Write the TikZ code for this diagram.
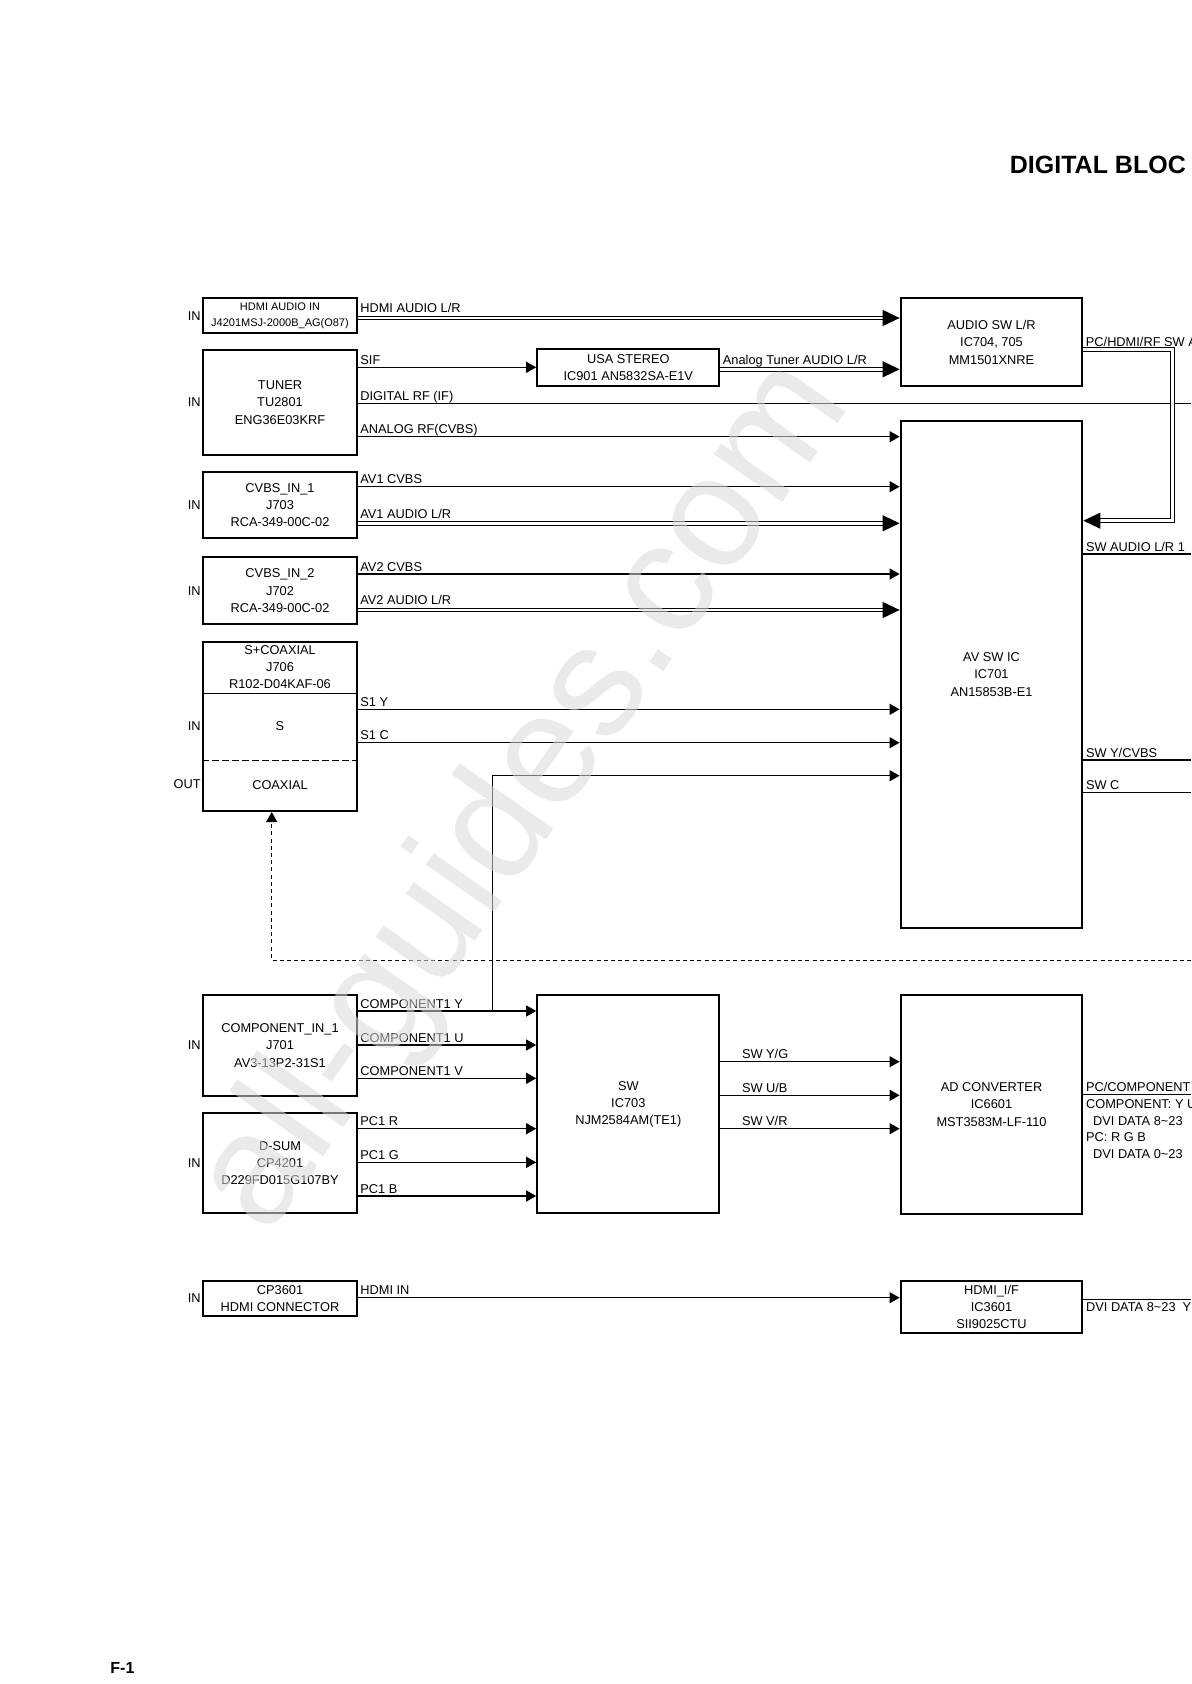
\documentclass[tikz,border=0pt]{standalone}
\usepackage{fontspec}
\setmainfont{Liberation Sans}
\usetikzlibrary{arrows.meta,calc}
\newcommand\labfont{\fontsize{6.4}{8.65}\selectfont}
\newcommand\tinylab{\fontsize{5.5}{8}\selectfont}
\tikzset{
 box/.style={draw, line width=1.1pt, inner sep=0pt, align=center, font=\labfont},
 arr/.style={line width=0.6pt, -{Triangle[length=5pt,width=5.5pt]}},
 darr/.style={line width=0.5pt, double distance=1.3pt, -{Triangle[length=8.5pt,width=8pt]}},
 ln/.style={line width=0.6pt},
 lbl/.style={anchor=base west, inner sep=0pt, font=\labfont, xshift=1pt, yshift=1.4pt},
 dlbl/.style={lbl, yshift=1.2pt},
 inlbl/.style={anchor=east, inner sep=0pt, font=\labfont, xshift=-0.6pt},
 txt/.style={inner sep=0pt, align=center, font=\labfont},
}
\begin{document}
\begin{tikzpicture}[x=0.5pt,y=-0.5pt]
\useasboundingbox (0,0) rectangle (1191,1684);
\clip (0,0) rectangle (1191,1684);

% title and page number
\node[anchor=base west, inner sep=0pt, font=\fontsize{12.5}{15}\selectfont\bfseries] (title) at (1009.5,173.5) {DIGITAL BLOC};
\node[anchor=base west, inner sep=0pt, font=\fontsize{8}{10}\selectfont\bfseries] (pg) at (110,1673.3) {F-1};

% left boxes
\node[box, minimum width=76.7pt, minimum height=17.5pt, font=\tinylab] (hdmia) at (280,315.8) {HDMI AUDIO IN\\J4201MSJ-2000B\_AG(O87)};
\node[box, minimum width=76.7pt, minimum height=52.5pt] (tuner) at (280,402.5) {TUNER\\TU2801\\ENG36E03KRF};
\node[box, minimum width=76.7pt, minimum height=33.3pt] (cvbs1) at (280,505) {CVBS\_IN\_1\\J703\\RCA-349-00C-02};
\node[box, minimum width=76.7pt, minimum height=33.5pt] (cvbs2) at (280,590.8) {CVBS\_IN\_2\\J702\\RCA-349-00C-02};
\node[box, minimum width=76.7pt, minimum height=84.65pt] (scoax) at (280,726.3) {};
\node[txt] (scoaxt) at (280,667) {S+COAXIAL\\J706\\R102-D04KAF-06};
\node[txt] (st) at (280,726) {S};
\node[txt] (coaxt) at (280,785) {COAXIAL};
\draw[line width=0.6pt] (scoax.west |- 0,693.3) -- (scoax.east |- 0,693.3);
\draw[line width=0.6pt, dash pattern=on 3.5pt off 1.5pt] (scoax.west |- 0,760.7) -- (scoax.east |- 0,760.7);
\node[box, minimum width=76.7pt, minimum height=50.5pt] (comp) at (280,1045.5) {COMPONENT\_IN\_1\\J701\\AV3-13P2-31S1};
\node[box, minimum width=76.7pt, minimum height=50.3pt] (dsub) at (280,1163) {D-SUM\\CP4201\\D229FD015G107BY};
\node[box, minimum width=76.7pt, minimum height=17.65pt] (cp) at (280,1298.3) {CP3601\\HDMI CONNECTOR};

% middle / right boxes
\node[box, minimum width=91pt, minimum height=18.35pt] (stereo) at (628.3,367.7) {USA STEREO\\IC901 AN5832SA-E1V};
\node[box, minimum width=90.8pt, minimum height=43.85pt] (audsw) at (991.5,342.2) {AUDIO SW L/R\\IC704, 705\\MM1501XNRE};
\node[box, minimum width=90.8pt, minimum height=253.65pt] (avsw) at (991.5,674.3) {AV SW IC\\IC701\\AN15853B-E1};
\node[box, minimum width=91pt, minimum height=109.15pt] (swic) at (628.3,1104.2) {SW\\IC703\\NJM2584AM(TE1)};
\node[box, minimum width=90.8pt, minimum height=109.5pt] (adc) at (991.5,1104.5) {AD CONVERTER\\IC6601\\MST3583M-LF-110};
\node[box, minimum width=90.8pt, minimum height=26.15pt] (hdmiif) at (991.5,1306.8) {HDMI\_I/F\\IC3601\\SII9025CTU};

% IN / OUT labels
\node[inlbl] (in1) at (hdmia.west) {IN};
\node[inlbl] (in2) at (tuner.west) {IN};
\node[inlbl] (in3) at (cvbs1.west) {IN};
\node[inlbl] (in4) at (cvbs2.west) {IN};
\node[inlbl] (in5) at (scoax.west |- 0,726) {IN};
\node[inlbl] (out5) at (scoax.west |- 0,784) {OUT};
\node[inlbl] (in6) at (comp.west) {IN};
\node[inlbl] (in7) at (dsub.west) {IN};
\node[inlbl] (in8) at (cp.west) {IN};

% connectors
\draw[darr] (hdmia.east |- 0,318) -- node[dlbl,pos=0]{HDMI AUDIO L/R} (audsw.west |- 0,318);
\draw[arr] (tuner.east |- 0,367.3) -- node[lbl,pos=0]{SIF} (stereo.west |- 0,367.3);
\draw[darr] (stereo.east |- 0,369.3) -- node[dlbl,pos=0]{Analog Tuner AUDIO L/R} (audsw.west |- 0,369.3);
\coordinate (rfR) at (1191,403.3);
\draw[ln] (tuner.east |- 0,403.3) -- node[lbl,pos=0]{DIGITAL RF (IF)} (rfR);
\draw[arr] (tuner.east |- 0,436.7) -- node[lbl,pos=0]{ANALOG RF(CVBS)} (avsw.west |- 0,436.7);
\draw[arr] (cvbs1.east |- 0,486.7) -- node[lbl,pos=0]{AV1 CVBS} (avsw.west |- 0,486.7);
\draw[darr] (cvbs1.east |- 0,523.3) -- node[dlbl,pos=0]{AV1 AUDIO L/R} (avsw.west |- 0,523.3);
\draw[arr] (cvbs2.east |- 0,574) -- node[lbl,pos=0]{AV2 CVBS} (avsw.west |- 0,574);
\draw[darr] (cvbs2.east |- 0,610) -- node[dlbl,pos=0]{AV2 AUDIO L/R} (avsw.west |- 0,610);
\draw[arr] (scoax.east |- 0,709.3) -- node[lbl,pos=0]{S1 Y} (avsw.west |- 0,709.3);
\draw[arr] (scoax.east |- 0,742.7) -- node[lbl,pos=0]{S1 C} (avsw.west |- 0,742.7);

\draw[arr] (comp.east |- 0,1011) -- node[lbl,pos=0]{COMPONENT1 Y} (swic.west |- 0,1011);
\coordinate (br) at (492.7,1011);
\draw[arr] (br) -- (br |- 0,775.7) -- (avsw.west |- 0,775.7);
\draw[arr] (comp.east |- 0,1045) -- node[lbl,pos=0]{COMPONENT1 U} (swic.west |- 0,1045);
\draw[arr] (comp.east |- 0,1078.3) -- node[lbl,pos=0]{COMPONENT1 V} (swic.west |- 0,1078.3);
\draw[arr] (dsub.east |- 0,1128.7) -- node[lbl,pos=0]{PC1 R} (swic.west |- 0,1128.7);
\draw[arr] (dsub.east |- 0,1162.3) -- node[lbl,pos=0]{PC1 G} (swic.west |- 0,1162.3);
\draw[arr] (dsub.east |- 0,1196) -- node[lbl,pos=0]{PC1 B} (swic.west |- 0,1196);

\draw[arr] (swic.east |- 0,1061.7) -- node[lbl,pos=0,xshift=9.5pt]{SW Y/G} (adc.west |- 0,1061.7);
\draw[arr] (swic.east |- 0,1095.3) -- node[lbl,pos=0,xshift=9.5pt]{SW U/B} (adc.west |- 0,1095.3);
\draw[arr] (swic.east |- 0,1128.7) -- node[lbl,pos=0,xshift=9.5pt]{SW V/R} (adc.west |- 0,1128.7);

\draw[arr] (cp.east |- 0,1297.7) -- node[lbl,pos=0]{HDMI IN} (hdmiif.west |- 0,1297.7);

% right side
\coordinate (rt1) at (1172.7,349.3);
\coordinate (rt2) at (1172.7,520.7);
\draw[darr] (audsw.east |- 0,349.3) -- node[lbl,pos=0]{PC/HDMI/RF SW A} (rt1) -- (rt2) -- (avsw.east |- 0,520.7);
\coordinate (aoR) at (1191,554);
\draw[ln] (avsw.east |- 0,554) -- node[lbl,pos=0]{SW AUDIO L/R 1} (aoR);
\coordinate (yR) at (1191,760);
\draw[ln] (avsw.east |- 0,760) -- node[lbl,pos=0]{SW Y/CVBS} (yR);
\coordinate (cR) at (1191,792.7);
\draw[ln] (avsw.east |- 0,792.7) -- node[lbl,pos=0]{SW C} (cR);
\coordinate (pcR) at (1191,1094.7);
\draw[ln] (adc.east |- 0,1094.7) -- node[lbl,pos=0]{PC/COMPONENT} (pcR);
\node[anchor=base west, inner sep=0pt, font=\labfont] (pc1) at (1085.7,1108.3) {COMPONENT: Y U};
\node[anchor=base west, inner sep=0pt, font=\labfont] (pc2) at (1092.7,1125) {DVI DATA 8\textasciitilde 23};
\node[anchor=base west, inner sep=0pt, font=\labfont] (pc3) at (1085.7,1141.7) {PC: R G B};
\node[anchor=base west, inner sep=0pt, font=\labfont] (pc4) at (1092.7,1158.3) {DVI DATA 0\textasciitilde 23};
\coordinate (dviR) at (1191,1299.3);
\draw[ln] (hdmiif.east |- 0,1299.3) -- (dviR);
\node[anchor=base west, inner sep=0pt, font=\labfont] (dvi) at (1085.7,1311.7) {DVI DATA 8\textasciitilde 23\ \ Y};

% dashed return to coaxial
\coordinate (dR) at (1191,960);
\coordinate (dc) at (271.7,960);
\draw[line width=0.5pt, dash pattern=on 2pt off 1.6pt, -{Triangle[length=5pt,width=5.5pt]}] (dR) -- (dc) -- (dc |- scoax.south);

% watermark
\node[rotate=55, text=black!15, opacity=0.55, inner sep=0pt, font=\fontsize{79}{84}\selectfont] (wm) at (526,797) {all-guides.com};
\end{tikzpicture}
\end{document}
